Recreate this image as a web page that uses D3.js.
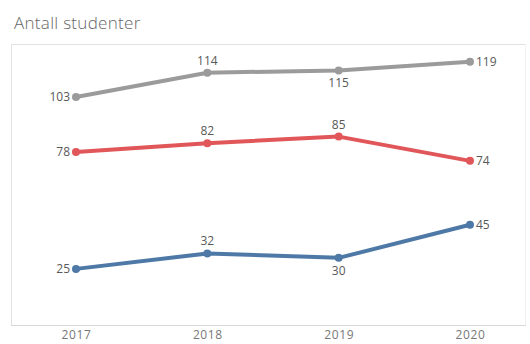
<!DOCTYPE html>
<html>
<head>
<meta charset="utf-8">
<script src="https://cdn.jsdelivr.net/npm/d3@7"></script>
<style>
  body { margin: 0; background: #fff; }
  svg { display: block; font-family: "Open Sans", "Noto Sans", sans-serif; }
</style>
</head>
<body>
<div id="chart"></div>
<script>
var years = ['2017', '2018', '2019', '2020'];
var totalValues = [103, 114, 115, 119];
var redValues = [78, 82, 85, 74];
var blueValues = [25, 32, 30, 45];
// label position per point: l = left, a = above, b = below, r = right
var totalLabelPos = ['l', 'a', 'b', 'r'];
var redLabelPos = ['l', 'a', 'a', 'r'];
var blueLabelPos = ['l', 'a', 'b', 'r'];

var series = [
  {name: 'Totalt', values: totalValues, pos: totalLabelPos, color: '#9b9b9b'},
  {name: 'Kvinner', values: redValues, pos: redLabelPos, color: '#e15759'},
  {name: 'Menn', values: blueValues, pos: blueLabelPos, color: '#4e79a7'}
];

var width = 530, height = 344;
var box = {left: 11, top: 44, right: 526, bottom: 325};

var svg = d3.select('#chart')
  .append('svg')
  .attr('width', width)
  .attr('height', height);

// title
svg.append('text')
  .attr('x', 14)
  .attr('y', 29)
  .attr('fill', '#666')
  .style('font-size', '17px')
  .style('font-weight', '300')
  .style('letter-spacing', '0.3px')
  .text('Antall studenter');

// scales
var x = d3.scalePoint().domain(years).range([76, 470]);
var y = d3.scaleLinear().domain([0, 127]).range([324, box.top]);

// frame lines
svg.append('line')
  .attr('x1', box.left).attr('x2', box.right)
  .attr('y1', box.top + 0.5).attr('y2', box.top + 0.5)
  .attr('stroke', '#e2e2e2');
svg.append('line')
  .attr('x1', box.left + 0.5).attr('x2', box.left + 0.5)
  .attr('y1', box.top).attr('y2', box.bottom)
  .attr('stroke', '#e2e2e2');
svg.append('line')
  .attr('x1', box.right - 0.5).attr('x2', box.right - 0.5)
  .attr('y1', box.top).attr('y2', box.bottom)
  .attr('stroke', '#f0f0f0');

// x axis
var xAxis = svg.append('g')
  .attr('transform', 'translate(0,' + (box.bottom + 0.5) + ')')
  .call(d3.axisBottom(x).tickSize(0).tickPadding(5));
xAxis.select('.domain')
  .attr('d', 'M' + box.left + ',0H' + box.right)
  .attr('stroke', '#d9d9d9');
xAxis.selectAll('text')
  .attr('fill', '#777')
  .style('font-size', '12px')
  .style('letter-spacing', '0.6px')
  .style('font-family', '"Open Sans", sans-serif');

var line = d3.line()
  .x(function (d, i) { return x(years[i]); })
  .y(function (d) { return y(d); });

series.forEach(function (s) {
  var g = svg.append('g');
  g.append('path')
    .datum(s.values)
    .attr('d', line)
    .attr('fill', 'none')
    .attr('stroke', s.color)
    .attr('stroke-width', 4)
    .attr('stroke-linejoin', 'round');
  g.selectAll('circle')
    .data(s.values)
    .enter()
    .append('circle')
    .attr('cx', function (d, i) { return x(years[i]); })
    .attr('cy', function (d) { return y(d); })
    .attr('r', 4)
    .attr('fill', s.color);
  g.selectAll('text')
    .data(s.values)
    .enter()
    .append('text')
    .attr('x', function (d, i) {
      var p = s.pos[i];
      if (p === 'l') return x(years[i]) - 6;
      if (p === 'r') return x(years[i]) + 6;
      return x(years[i]);
    })
    .attr('y', function (d, i) {
      var p = s.pos[i];
      if (p === 'a') return y(d) - 8;
      if (p === 'b') return y(d) + 17;
      return y(d) + 4;
    })
    .attr('text-anchor', function (d, i) {
      var p = s.pos[i];
      return p === 'l' ? 'end' : p === 'r' ? 'start' : 'middle';
    })
    .attr('fill', '#595959')
    .style('font-size', '12px')
    .text(function (d) { return d; });
});
</script>
</body>
</html>
